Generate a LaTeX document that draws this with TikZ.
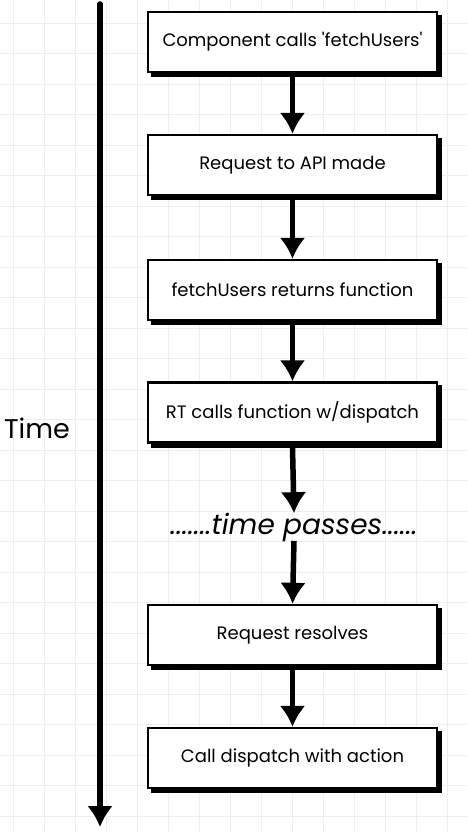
\documentclass[tikz,border=0pt]{standalone}
\usepackage{fontspec}
\setmainfont{Poppins}
\usetikzlibrary{arrows.meta}
\definecolor{gridgray}{HTML}{EDEDED}
\begin{document}
\begin{tikzpicture}
		[x=1pt,y=-1pt,
		stage/.style={draw,line width=2.4pt,fill=white,minimum width=289pt,minimum height=60pt,
			font=\fontsize{18}{22}\selectfont,
			preaction={draw,fill=black,transform canvas={shift={(4pt,-4pt)}}}},
		flow/.style={line width=5.5pt,->},
		>={Latex[length=21pt,width=26pt]}]
		\useasboundingbox[fill=white] (0,0) rectangle (467,832);
		% faint grid
		\foreach \gx in {13,44,...,467} \draw[gridgray,line width=0.8pt] (\gx,0) -- (\gx,832);
		\foreach \gy in {23,53.5,...,832} \draw[gridgray,line width=0.8pt] (0,\gy) -- (467,\gy);
		\node[stage,name=call]at(292.5,42){Component calls \textquotesingle fetchUsers\textquotesingle};
		\node[stage,name=request]at(292.5,165){Request to API made};
		\node[stage,name=returns]at(292.5,290){fetchUsers returns function};
		\node[stage,name=rt]at(292.5,412.5){RT calls function w/dispatch};
		\node[name=wait,font=\fontsize{28}{32}\selectfont\itshape]at(294,527){.......time passes......};
		\node[stage,name=resolves]at(292.5,635){Request resolves};
		\node[stage,name=dispatch]at(292.5,758){Call dispatch with action};
		\node[name=time,font=\fontsize{27}{32}\selectfont]at(37,428){Time};
		\coordinate (start) at (100,4);
		\coordinate (end) at (100,827);
		\draw[flow,line cap=round] (start) -- (end);
		\draw[flow] ([yshift=-4pt]call.south) -- (request.north);
		\draw[flow] ([yshift=-4pt]request.south) -- (returns.north);
		\draw[flow] ([yshift=-4pt]returns.south) -- (rt.north);
		\draw[flow] ([yshift=-4pt]rt.south) -- ([yshift=-4pt]wait.north);
		\draw[flow] ([yshift=4pt]wait.south) -- (resolves.north);
		\draw[flow] ([yshift=-4pt]resolves.south) -- (dispatch.north);
	\end{tikzpicture}
\end{document}
